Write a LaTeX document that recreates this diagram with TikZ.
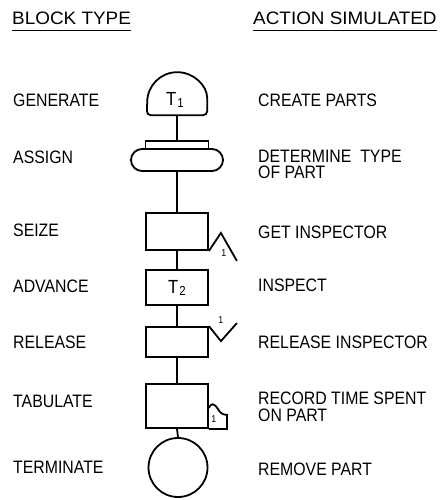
\documentclass[tikz,border=0pt]{standalone}
\usepackage{fontspec}
\setmainfont[FakeStretch=0.88]{Liberation Sans}
\newfontfamily\headfont[FakeStretch=1.05]{Liberation Sans}
\begin{document}
\begin{tikzpicture}[x=1pt,y=-1pt,
  blk/.style={draw,line width=1.8pt,inner sep=0pt},
  boxblk/.style={blk,rectangle,minimum width=62pt},
  lbl/.style={anchor=base west,inner sep=0pt,font=\fontsize{18}{18}\selectfont},
  head/.style={anchor=base west,inner sep=0pt,font=\headfont\fontsize{18}{18}\selectfont},
  cnt/.style={inner sep=0pt,font=\fontsize{10}{10}\selectfont},
  wire/.style={line width=1.8pt}]
\useasboundingbox (0,0) rectangle (442,500);

% column headings
\node[head] (hblock) at (12,25) {BLOCK TYPE};
\node[head] (haction) at (253,25) {ACTION SIMULATED};
\draw[line width=1.1pt] ([yshift=-5pt]hblock.south west) -- ([yshift=-5pt]hblock.south east);
\draw[line width=1.1pt] ([yshift=-5pt]haction.south west) -- ([yshift=-5pt]haction.south east);

% GENERATE block (dome)
\node[inner sep=0pt,minimum width=60pt,minimum height=43pt] (gen) at (177,93.5) {};
\draw[line width=1.8pt] ([yshift=13pt]gen.south east) arc[start angle=0,end angle=-180,radius=30]
  [rounded corners=4pt] -- (gen.south west) -- (gen.south east) -- cycle;
\node[inner sep=0pt,font=\fontsize{19}{19}\selectfont] (t1) at ([yshift=-6.5pt,xshift=-2pt]gen.center)
  {T\kern1pt\raisebox{-2pt}{\fontsize{13}{13}\selectfont 1}};

% ASSIGN block
\node[boxblk,minimum width=63pt,minimum height=8pt] (asgtop) at (177,145) {};
\node[blk,rectangle,rounded corners=11pt,minimum width=92pt,minimum height=22pt] (asg) at (177,160) {};

% SEIZE, ADVANCE, RELEASE, TABULATE
\node[boxblk,minimum height=37pt] (seize) at (177,231.5) {};
\node[boxblk,minimum height=35pt,font=\fontsize{19}{19}\selectfont] (adv) at (177,287.5)
  {T\kern1pt\raisebox{-2pt}{\fontsize{13}{13}\selectfont 2}};
\node[boxblk,minimum height=30pt] (rel) at (177,342) {};
\node[boxblk,minimum height=44pt] (tab) at (177,406) {};

% TERMINATE block
\node[blk,circle,minimum size=59pt] (term) at (178,467.5) {};

% flow lines
\draw[wire] (gen.south) -- (asgtop.north);
\draw[wire] (asg.south) -- (seize.north);
\draw[wire] (seize.south) -- (adv.north);
\draw[wire] (adv.south) -- (rel.north);
\draw[wire] (rel.south) -- (tab.north);
\draw[wire] (tab.south) -- (term.north);

% facility / queue marks
\draw[wire,line join=miter] (seize.south east) -- ++(12,-18) -- ++(16,28);
\node[cnt] (sone) at ([shift={(15,2)}]seize.south east) {1};
\draw[wire,line join=miter] (rel.north east) -- ++(12,15) -- ++(16,-18);
\node[cnt] (rone) at ([shift={(12,-6)}]rel.north east) {1};
\begin{scope}[shift={(tab.south east)}]
  \draw[wire] (0,-21) .. controls (2,-26) and (5,-26) .. (9,-20)
    .. controls (11,-16) and (14,-14) .. (18,-14) -- (18,0) -- (0,0);
  \node[cnt] (tone) at (5,-10) {1};
\end{scope}

% block type names
\node[lbl] (lgen) at (13,106.5) {GENERATE};
\node[lbl] (lasg) at (13,163.5) {ASSIGN};
\node[lbl] (lsei) at (13,236.5) {SEIZE};
\node[lbl] (ladv) at (13,292.5) {ADVANCE};
\node[lbl] (lrel) at (13,348.5) {RELEASE};
\node[lbl] (ltab) at (13,407.5) {TABULATE};
\node[lbl] (lter) at (13,473.5) {TERMINATE};

% simulated actions
\node[lbl] (agen) at (258,106.5) {CREATE PARTS};
\node[lbl] (aasg1) at (258,162) {DETERMINE\ \ TYPE};
\node[lbl] (aasg2) at (258,178.5) {OF PART};
\node[lbl] (asei) at (258,238.5) {GET INSPECTOR};
\node[lbl] (aadv) at (258,291.5) {INSPECT};
\node[lbl] (arel) at (258,348.5) {RELEASE INSPECTOR};
\node[lbl] (atab1) at (258,404.5) {RECORD TIME SPENT};
\node[lbl] (atab2) at (258,421.5) {ON PART};
\node[lbl] (ater) at (258,475) {REMOVE PART};
\end{tikzpicture}
\end{document}
